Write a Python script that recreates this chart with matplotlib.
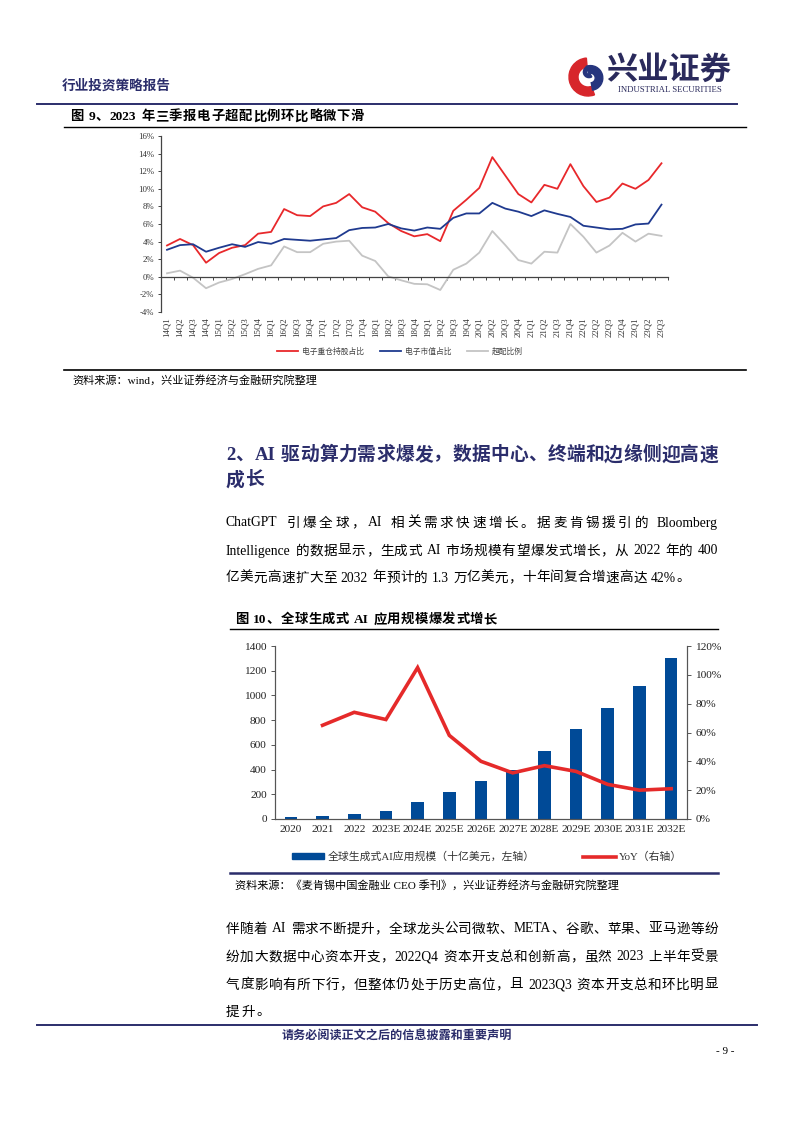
import re
import numpy as np
import matplotlib
matplotlib.use('Agg')
import matplotlib.pyplot as plt
from matplotlib.patches import Wedge, Patch
from matplotlib.lines import Line2D
from matplotlib.ticker import FuncFormatter

W, H = 794, 1123
SERIF = ['Liberation Serif', 'Noto Sans CJK SC']
CJK = ['Noto Sans CJK SC', 'DejaVu Sans']
NAVY = '#2b2d6b'

# ---- figure 9 data (% share) ----
quarters = ['14Q1', '14Q2', '14Q3', '14Q4', '15Q1', '15Q2', '15Q3', '15Q4',
            '16Q1', '16Q2', '16Q3', '16Q4', '17Q1', '17Q2', '17Q3', '17Q4',
            '18Q1', '18Q2', '18Q3', '18Q4', '19Q1', '19Q2', '19Q3', '19Q4',
            '20Q1', '20Q2', '20Q3', '20Q4', '21Q1', '21Q2', '21Q3', '21Q4',
            '22Q1', '22Q2', '22Q3', '22Q4', '23Q1', '23Q2', '23Q3']
heavy_share = [3.56, 4.3, 3.6, 1.6, 2.7, 3.3, 3.6, 4.9, 5.1, 7.7, 7.0, 6.9,
               8.0, 8.4, 9.4, 7.9, 7.4, 6.1, 5.2, 4.6, 4.85, 4.05, 7.5, 8.75,
               10.1, 13.6, 11.5, 9.4, 8.45, 10.45, 10.0, 12.8, 10.3, 8.5, 9.0,
               10.6, 10.0, 11.0, 12.9]
mktcap_share = [3.07, 3.6, 3.7, 2.85, 3.3, 3.7, 3.4, 3.95, 3.75, 4.3, 4.2, 4.1,
                4.25, 4.4, 5.3, 5.55, 5.6, 6.0, 5.5, 5.25, 5.6, 5.45, 6.7, 7.2,
                7.2, 8.4, 7.75, 7.4, 6.9, 7.55, 7.15, 6.8, 5.8, 5.6, 5.4, 5.45,
                5.95, 6.05, 8.2]
overweight = [0.4, 0.7, -0.1, -1.3, -0.65, -0.25, 0.3, 0.9, 1.3, 3.45, 2.8, 2.8,
              3.75, 4.0, 4.1, 2.4, 1.8, 0.05, -0.4, -0.8, -0.85, -1.5, 0.8, 1.5,
              2.75, 5.2, 3.6, 1.9, 1.5, 2.85, 2.75, 6.0, 4.55, 2.75, 3.55, 5.0,
              4.0, 4.9, 4.65]
series_names = ['电子重仓持股占比', '电子市值占比', '超配比例']

# ---- figure 10 data ----
years = ['2020', '2021', '2022', '2023E', '2024E', '2025E', '2026E', '2027E',
         '2028E', '2029E', '2030E', '2031E', '2032E']
market_size = [14, 23, 40, 67, 137, 217, 304, 399, 548, 728, 897, 1079, 1304]
yoy = [np.nan, 0.65, 0.74, 0.69, 1.05, 0.58, 0.40, 0.32, 0.37, 0.33, 0.24, 0.20, 0.21]

fig = plt.figure(figsize=(W / 100, H / 100), dpi=100)
fig.patch.set_facecolor('white')


def fx(x):
    return x / W


def fy(y):
    return 1 - y / H


def hline(y, x0, x1, color='black', lw=1.0):
    fig.add_artist(Line2D([fx(x0), fx(x1)], [fy(y), fy(y)], color=color, lw=lw))


def put(s, x, y, size, **kw):
    kw.setdefault('family', SERIF)
    return fig.text(fx(x), fy(y), s, fontsize=size, va='center', ha=kw.pop('ha', 'left'), **kw)


def spread(s, x0, y, size, x1=None, gap=1.0, **kw):
    # lay out a text line token by token, stretched to x1 when given
    kw.setdefault('family', SERIF)
    r = fig.canvas.get_renderer()
    toks = re.findall(r'[A-Za-z0-9.%]+|\s|.', s)
    sp = 0.28 * size * 100 / 72
    items = []
    for tok in toks:
        if tok == ' ':
            items.append((None, sp))
            continue
        t = fig.text(0, fy(y), tok, fontsize=size, va='center', ha='left', **kw)
        items.append((t, t.get_window_extent(r).width))
    if x1 is not None and len(items) > 1:
        gap = (x1 - x0 - sum(w for _, w in items)) / (len(items) - 1)
    x = x0
    for t, w in items:
        if t is not None:
            t.set_x(fx(x))
        x += w + gap


# ---- page header ----
put('行业投资策略报告', 62, 86, 9.8, weight='bold', color=NAVY, family=CJK)
put('兴业证券', 606, 70, 22.5, weight='bold', color='#2a2a5c', family=CJK)
put('INDUSTRIAL SECURITIES', 670, 90, 6.3, color='#2a2a5c', ha='center')
hline(104, 37, 737, color=NAVY, lw=1.4)

logo = fig.add_axes([fx(568), fy(97), 40 / W, 40 / H])
logo.set_xlim(-1, 1)
logo.set_ylim(-1, 1)
logo.set_aspect('equal')
logo.axis('off')
logo.add_patch(Wedge((0, 0), 0.95, 95, 290, width=0.45, color='#d7262b'))
logo.add_patch(Wedge((0.12, -0.05), 0.62, -80, 110, width=0.38, color='#26357e'))
logo.add_patch(Wedge((0.05, 0.25), 0.28, 90, 300, width=0.16, color='#26357e'))

# ---- figure 9 ----
spread('图 9、2023 年三季报电子超配比例环比略微下滑', 70, 117, 9.6, x1=364, weight='bold')
hline(127, 64, 746, lw=1.0)

ax = fig.add_axes([fx(160.5), fy(312), (668 - 160.5) / W, (312 - 136) / H])
x = np.arange(len(quarters))
ax.plot(x, heavy_share, color='#e8282b', lw=1.3, label=series_names[0])
ax.plot(x, mktcap_share, color='#1f3a8f', lw=1.3, label=series_names[1])
ax.plot(x, overweight, color='#c4c4c4', lw=1.3, label=series_names[2])
ax.set_xlim(-0.5, len(quarters) - 0.5)
ax.set_ylim(-4, 16)
ax.set_yticks(np.arange(-4, 17, 2))
ax.yaxis.set_major_formatter(FuncFormatter(lambda v, p: f'{v:.0f}%'))
ax.spines['top'].set_visible(False)
ax.spines['right'].set_visible(False)
ax.spines['bottom'].set_position(('data', 0))
for s in ('left', 'bottom'):
    ax.spines[s].set_color('#444444')
    ax.spines[s].set_linewidth(0.9)
ax.set_xticks(x)
ax.set_xticklabels(quarters, rotation=90, family=SERIF, fontsize=6.3, color='#333333')
ax.set_xticks(np.arange(-0.5, len(quarters), 1), minor=True)
ax.tick_params(axis='x', which='major', length=0, pad=29)
ax.tick_params(axis='x', which='minor', length=2.5, width=0.7, color='#444444')
ax.tick_params(axis='y', length=2.5, width=0.7, color='#444444', labelsize=6.3, pad=2)
for lb in ax.get_yticklabels():
    lb.set_family(SERIF)
    lb.set_color('#333333')
fig.legend(loc='center', bbox_to_anchor=(fx(400), fy(352)), ncol=3, frameon=False,
           prop={'family': CJK, 'size': 5.6}, handlelength=2.7, columnspacing=2.0,
           handletextpad=0.5, labelcolor='#444444')

hline(370, 64, 746, lw=1.2)
put('资料来源：wind，兴业证券经济与金融研究院整理', 72, 380, 8)

# ---- section text ----
spread('2、AI 驱动算力需求爆发，数据中心、终端和边缘侧迎高速', 226, 455, 13.5, x1=718,
       weight='bold', color=NAVY)
spread('成长', 226, 480, 13.5, gap=1.5, weight='bold', color=NAVY)

BODY = 9.8
para1 = ['ChatGPT 引爆全球，AI 相关需求快速增长。据麦肯锡援引的 Bloomberg',
         'Intelligence 的数据显示，生成式 AI 市场规模有望爆发式增长，从 2022 年的 400',
         '亿美元高速扩大至 2032 年预计的 1.3 万亿美元，十年间复合增速高达 42%。']
spread(para1[0], 226, 523, BODY, x1=718)
spread(para1[1], 226, 551, BODY, x1=718)
spread(para1[2], 226, 578, BODY, x1=690)

# ---- figure 10 ----
spread('图 10、全球生成式 AI 应用规模爆发式增长', 235, 620, 9.6, x1=497, weight='bold')
hline(629, 230, 718, lw=1.0)

ax2 = fig.add_axes([fx(275), fy(819), (687 - 275) / W, (819 - 646) / H])
xb = np.arange(len(years))
ax2.bar(xb, market_size, width=0.4, color='#004a97', zorder=2)
ax2.set_xlim(-0.5, len(years) - 0.5)
ax2.set_ylim(0, 1400)
ax2.set_yticks(np.arange(0, 1401, 200))
ax2.set_xticks(xb)
ax2.set_xticklabels(years)
ax2.spines['top'].set_visible(False)
ax2.tick_params(axis='x', length=0, labelsize=8.2, pad=4)
ax2.tick_params(axis='y', length=3, width=0.7, labelsize=8.2, pad=3, color='#555555')
for lb in ax2.get_xticklabels() + ax2.get_yticklabels():
    lb.set_family(SERIF)
    lb.set_color('#222222')

ax2r = ax2.twinx()
ax2r.plot(xb, yoy, color='#e52a2a', lw=2.6, solid_joinstyle='miter', zorder=3)
ax2r.set_ylim(0, 1.2)
ax2r.set_yticks(np.arange(0, 1.21, 0.2))
ax2r.yaxis.set_major_formatter(FuncFormatter(lambda v, p: f'{v * 100:.0f}%'))
ax2r.spines['top'].set_visible(False)
ax2r.tick_params(axis='y', length=3, width=0.7, labelsize=8.2, pad=3, color='#555555')
for lb in ax2r.get_yticklabels():
    lb.set_family(SERIF)
    lb.set_color('#222222')
for a in (ax2, ax2r):
    for s in ('left', 'right', 'bottom'):
        a.spines[s].set_color('#555555')
        a.spines[s].set_linewidth(0.8)

fig.legend(handles=[Patch(color='#004a97', label='全球生成式AI应用规模（十亿美元，左轴）'),
                    Line2D([], [], color='#e52a2a', lw=2.6, label='YoY（右轴）')],
           loc='center', bbox_to_anchor=(fx(487), fy(857)), ncol=2, frameon=False,
           prop={'family': SERIF, 'size': 7.8}, handlelength=3.0, handleheight=0.45,
           columnspacing=4.5, handletextpad=0.3, labelcolor='#333333')

hline(873, 230, 718, color=NAVY, lw=1.8)
put('资料来源：《麦肯锡中国金融业 CEO 季刊》，兴业证券经济与金融研究院整理', 235, 885, 8)

para2 = ['伴随着 AI 需求不断提升，全球龙头公司微软、META、谷歌、苹果、亚马逊等纷',
         '纷加大数据中心资本开支，2022Q4 资本开支总和创新高，虽然 2023 上半年受景',
         '气度影响有所下行，但整体仍处于历史高位，且 2023Q3 资本开支总和环比明显',
         '提升。']
spread(para2[0], 226, 929, BODY, x1=718)
spread(para2[1], 226, 957, BODY, x1=718)
spread(para2[2], 226, 985, BODY, x1=718)
spread(para2[3], 226, 1012, BODY, gap=1.5)

# ---- footer ----
hline(1025, 37, 757, color=NAVY, lw=1.4)
put('请务必阅读正文之后的信息披露和重要声明', 282, 1036, 8.7, weight='bold', color=NAVY, family=CJK)
put('- 9 -', 735, 1052, 8, ha='right')

fig.savefig('out.png', dpi=100, facecolor='white')
